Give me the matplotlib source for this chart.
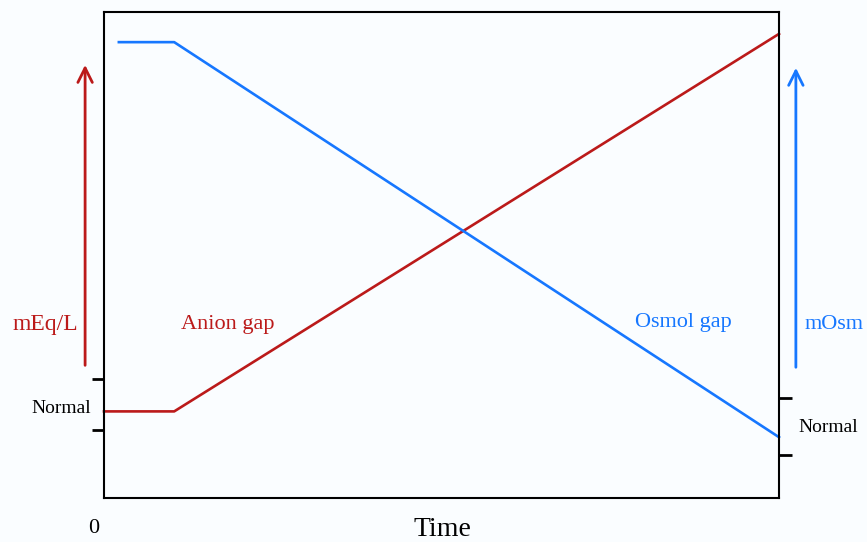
import matplotlib.pyplot as plt

plt.rcParams['font.family'] = ['Liberation Serif', 'DejaVu Serif']

# time points (percent of x range) and levels (percent of y range)
anion_x = [0, 10.4, 100]
anion_y = [17.8, 17.8, 95.4]
osmol_x = [2.2, 10.4, 100]
osmol_y = [93.7, 93.7, 12.5]

left_ticks = [14.0, 24.5]
right_ticks = [8.8, 20.6]

red = '#bb1a1a'
blue = '#1677ff'
bg = '#fafdff'

fig = plt.figure(figsize=(8.67, 5.42), dpi=100, facecolor=bg)
ax = fig.add_axes([104/867, 1-498/542, 675/867, 486.5/542], facecolor=bg)
ax.set_xlim(0, 100)
ax.set_ylim(0, 100)

ax.plot(anion_x, anion_y, color=red, lw=1.9, clip_on=False)
ax.plot(osmol_x, osmol_y, color=blue, lw=1.9, clip_on=False)

for s in ax.spines.values():
    s.set_linewidth(1.5)

ax.set_xticks([])
ax.set_yticks(left_ticks)
ax.set_yticklabels([])
ax.tick_params(axis='y', direction='out', length=9, width=2)

ax2 = ax.twinx()
ax2.set_ylim(0, 100)
ax2.set_yticks(right_ticks)
ax2.set_yticklabels([])
ax2.tick_params(axis='y', direction='out', length=9, width=2)
for s in ax2.spines.values():
    s.set_visible(False)

# arrows
ax.annotate('', xy=(-2.8, 89.6), xytext=(-2.8, 26.7),
            arrowprops=dict(arrowstyle='->', color=red, lw=2, mutation_scale=26),
            annotation_clip=False)
ax.annotate('', xy=(102.5, 89.0), xytext=(102.5, 26.3),
            arrowprops=dict(arrowstyle='->', color=blue, lw=2, mutation_scale=26),
            annotation_clip=False)

ax.text(-8.7, 35.6, 'mEq/L', color=red, fontsize=17, ha='center', va='center')
ax.text(18.4, 35.6, 'Anion gap', color=red, fontsize=16, ha='center', va='center')
ax.text(85.9, 36.0, 'Osmol gap', color=blue, fontsize=16, ha='center', va='center')
ax.text(108.1, 35.6, 'mOsm', color=blue, fontsize=16, ha='center', va='center')
ax.text(-1.9, 18.3, 'Normal', fontsize=14, ha='right', va='center')
ax.text(102.8, 14.4, 'Normal', fontsize=14, ha='left', va='center')
ax.text(-1.6, -6.2, '0', fontsize=16, ha='center', va='center')
ax.text(50.1, -6.5, 'Time', fontsize=20, ha='center', va='center')

fig.savefig('out.png', dpi=100, facecolor=bg)
